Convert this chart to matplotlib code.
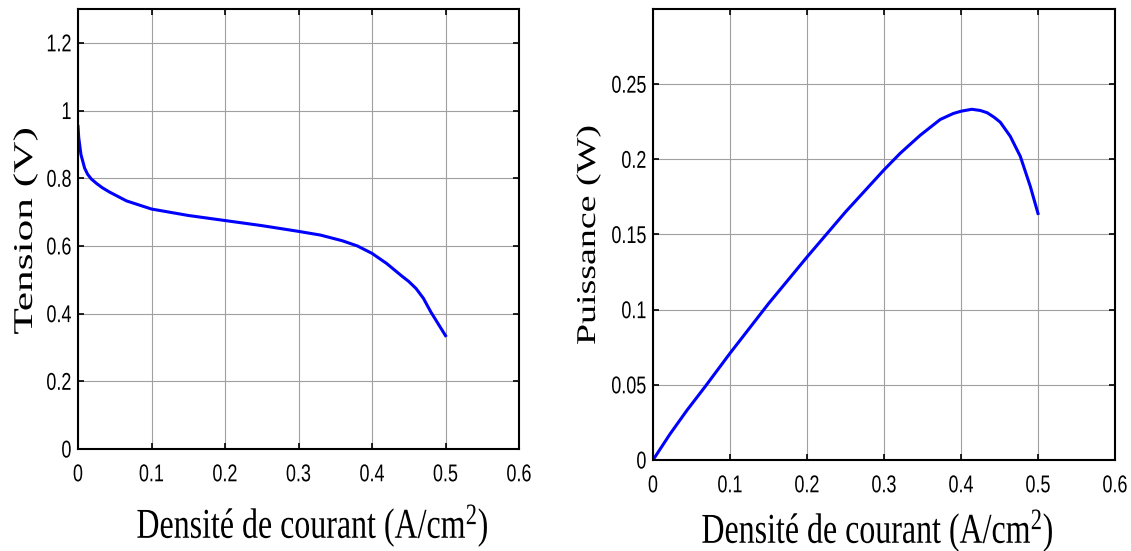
import matplotlib
matplotlib.use('Agg')
import matplotlib.pyplot as plt
from matplotlib.patheffects import AbstractPathEffect
from matplotlib.transforms import Affine2D

# courbe de polarisation
j_tension = [0, 0.001, 0.004, 0.009, 0.013, 0.018, 0.025, 0.033, 0.043, 0.066, 0.1, 0.15,
             0.2, 0.25, 0.3, 0.33, 0.36, 0.38, 0.4, 0.42, 0.44, 0.45, 0.46, 0.47, 0.48,
             0.49, 0.5]
tension = [0.953, 0.92, 0.87, 0.83, 0.812, 0.798, 0.785, 0.772, 0.759, 0.733, 0.709, 0.69,
           0.675, 0.66, 0.643, 0.632, 0.615, 0.60, 0.578, 0.548, 0.512, 0.495, 0.474, 0.445,
           0.405, 0.37, 0.335]

# courbe de puissance
j_puissance = [0, 0.022, 0.044, 0.068, 0.1, 0.15, 0.2, 0.25, 0.3, 0.321, 0.347, 0.373,
               0.39, 0.4, 0.414, 0.425, 0.434, 0.443, 0.451, 0.464, 0.477, 0.49, 0.5]
puissance = [0, 0.0172, 0.033, 0.049, 0.071, 0.104, 0.135, 0.165, 0.193, 0.204, 0.216, 0.2265,
             0.2305, 0.232, 0.2333, 0.2325, 0.231, 0.228, 0.2247, 0.2153, 0.202, 0.182, 0.164]

x_ticks = [0, 0.1, 0.2, 0.3, 0.4, 0.5, 0.6]
x_tick_labels = ['0', '0.1', '0.2', '0.3', '0.4', '0.5', '0.6']
tension_ticks = [0, 0.2, 0.4, 0.6, 0.8, 1.0, 1.2]
tension_tick_labels = ['0', '0.2', '0.4', '0.6', '0.8', '1', '1.2']
puissance_ticks = [0, 0.05, 0.1, 0.15, 0.2, 0.25]
puissance_tick_labels = ['0', '0.05', '0.1', '0.15', '0.2', '0.25']


class Squeeze(AbstractPathEffect):
    """stretch the glyphs of a text (the original figure was resized unevenly)"""
    def __init__(self, sx=1.0, sy=1.0, anchor='center'):
        super().__init__()
        self.sx = sx
        self.sy = sy
        self.anchor = anchor

    def draw_path(self, renderer, gc, tpath, affine, rgbFace=None):
        ext = tpath.get_extents()
        if self.anchor == 'right':
            cx = ext.x1
        else:
            cx = 0.5 * (ext.x0 + ext.x1)
        stretch = Affine2D().translate(-cx, 0).scale(self.sx, self.sy).translate(cx, 0)
        renderer.draw_path(gc, tpath, stretch + affine, rgbFace)


plt.rcParams['font.family'] = ['Liberation Sans', 'DejaVu Sans']
plt.rcParams['mathtext.fontset'] = 'custom'
plt.rcParams['mathtext.rm'] = 'Liberation Serif'
plt.rcParams['mathtext.it'] = 'Liberation Serif:italic'
plt.rcParams['mathtext.default'] = 'rm'

W, H = 1131, 551
fig = plt.figure(figsize=(W / 100, H / 100), dpi=100)
fig.patch.set_facecolor('white')

ax1 = fig.add_axes([78 / W, 1 - 449 / H, 441 / W, 440 / H])
ax2 = fig.add_axes([653 / W, 1 - 460 / H, 462 / W, 451 / H])


def style_axes(ax, yticks, ylabels, ylim):
    ax.set_xlim(0, 0.6)
    ax.set_ylim(*ylim)
    ax.set_xticks(x_ticks, x_tick_labels)
    ax.set_yticks(yticks, ylabels)
    ax.grid(True, color='#a0a0a0', linewidth=0.8)
    ax.set_axisbelow(True)
    ax.tick_params(direction='in', length=4, width=1.2, top=True, right=True,
                   labelsize=17.5, colors='black')
    ax.tick_params(axis='x', pad=11)
    ax.tick_params(axis='y', pad=4.5)
    for sp in ax.spines.values():
        sp.set_linewidth(1.5)
        sp.set_color('black')
    # narrow tick labels like in the original
    for lbl in ax.get_xticklabels():
        lbl.set_path_effects([Squeeze(0.74, 1.0)])
    for lbl in ax.get_yticklabels():
        lbl.set_path_effects([Squeeze(0.74, 1.0, anchor='right')])


style_axes(ax1, tension_ticks, tension_tick_labels, (0, 1.3))
style_axes(ax2, puissance_ticks, puissance_tick_labels, (0, 0.3))

ax1.plot(j_tension, tension, color='#0000ff', linewidth=2.2)
ax2.plot(j_puissance, puissance, color='#0000ff', linewidth=2.2)

xlabel = 'Densité de courant (A/cm$^{2}$)'
fig.text(313 / W, 1 - 538 / H, xlabel, fontsize=23, family='Liberation Serif',
         ha='center', va='baseline', path_effects=[Squeeze(1.0, 1.33)])
fig.text(878 / W, 1 - 543 / H, xlabel, fontsize=23, family='Liberation Serif',
         ha='center', va='baseline', path_effects=[Squeeze(1.0, 1.33)])

fig.text(32 / W, 1 - 231 / H, 'Tension (V)', fontsize=19.5, family='Liberation Serif',
         rotation=90, rotation_mode='anchor', ha='center', va='baseline',
         path_effects=[Squeeze(1.6, 1.0)])
fig.text(595 / W, 1 - 235 / H, 'Puissance (W)', fontsize=19.5, family='Liberation Serif',
         rotation=90, rotation_mode='anchor', ha='center', va='baseline',
         path_effects=[Squeeze(1.4, 1.0)])

fig.savefig('out.png', dpi=100)
